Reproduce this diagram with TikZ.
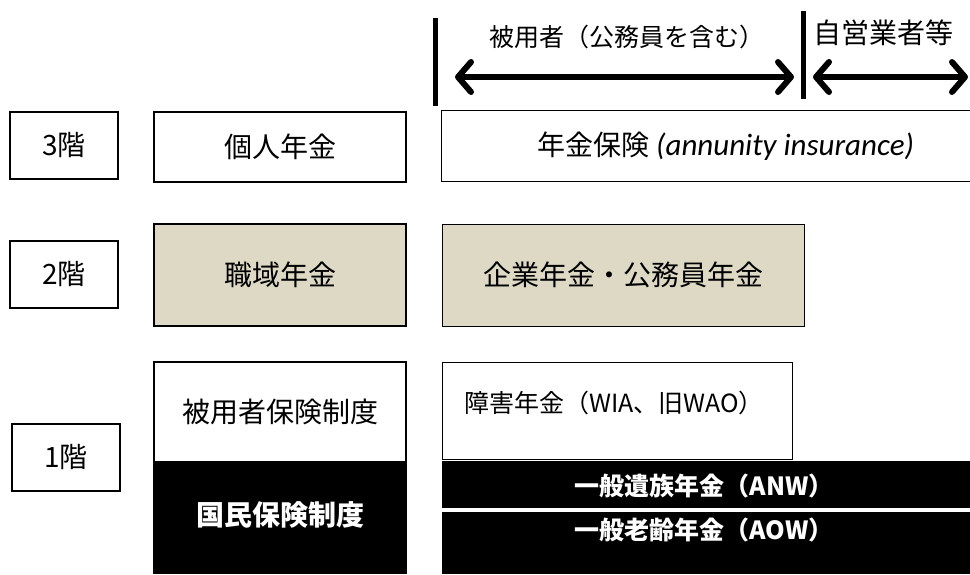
\documentclass[tikz,border=0pt]{standalone}
\usepackage{fontspec}
\setmainfont{Noto Sans CJK JP}
\newfontfamily\carlito{Carlito}
\usetikzlibrary{arrows.meta}
\definecolor{tan}{RGB}{221,217,196}
\newcommand{\fs}[1]{\fontsize{#1}{#1}\selectfont}
\tikzset{
  lvl/.style={draw=black, line width=1.3pt, fill=white, inner sep=0pt, font=\fs{28}},
  cell/.style={draw=black, line width=1pt, inner sep=0pt, font=\fs{28}},
  blk/.style={fill=black, draw=none, inner sep=0pt},
  wtxt/.style={text=white, font=\fs{25}\bfseries, inner sep=0pt},
  txt/.style={inner sep=0pt},
  bar/.style={line width=5pt},
  tipb/.tip={Straight Barb[length=13pt,width=30pt,line width=6pt,round]},
  span/.style={line width=6pt, tipb-tipb}
}
\begin{document}
\begin{tikzpicture}[x=1pt,y=-1pt]
\useasboundingbox (0,0) rectangle (970,574);
% level boxes
\node[lvl, minimum width=108, minimum height=67] (l3) at (64,145.5) {3階};
\node[lvl, minimum width=108, minimum height=67] (l2) at (64,274.5) {2階};
\node[lvl, minimum width=108, minimum height=67] (l1) at (66,457.5) {1階};
% column 2
\node[lvl, minimum width=252, minimum height=70] (kojin) at (280,147) {個人年金};
\node[lvl, fill=tan, minimum width=252, minimum height=102] (shokuiki) at (280,275) {職域年金};
\node[lvl, minimum width=252, minimum height=100] (hiyo) at (280,412) {被用者保険制度};
\node[blk, minimum width=253.3, minimum height=112] (koku) at (280,518) {};
\node[wtxt, font=\fs{28}\bfseries] (kokutxt) at (280,515) {国民保険制度};
% column 3
\node[draw=none, minimum width=528, minimum height=70, inner sep=0pt] (hoken) at (706,146) {};
\draw[line width=1pt] (hoken.north east) -- (hoken.north west) -- (hoken.south west) -- (hoken.south east);
\node[txt, font=\fs{28}] (hokentxt) at (726,146) {年金保険 {\carlito\itshape\fs{31}(annunity insurance)}};
\node[cell, fill=tan, minimum width=362, minimum height=102] (kigyo) at (623,275) {企業年金・公務員年金};
\node[cell, fill=white, minimum width=350, minimum height=97] (shogai) at (617,410.5) {};
\node[txt, font=\fs{25}] (shogaitxt) at (614,402.5) {障害年金（WIA、旧WAO）};
\node[blk, minimum width=528, minimum height=47] (izoku) at (706,484.5) {};
\node[wtxt] (izokutxt) at (704,486) {一般遺族年金（ANW）};
\node[blk, minimum width=528, minimum height=62] (rorei) at (706,543) {};
\node[wtxt] (roreitxt) at (704,530) {一般老齢年金（AOW）};
% header
\coordinate (b1t) at (435,18); \coordinate (b1b) at (435,106);
\coordinate (b2t) at (803,11); \coordinate (b2b) at (803,99);
\draw[bar] (b1t) -- (b1b);
\draw[bar] (b2t) -- (b2b);
\coordinate (a1l) at (455,77); \coordinate (a1r) at (794,77);
\coordinate (a2l) at (813,77); \coordinate (a2r) at (968,77);
\draw[span] (a1l) -- (a1r);
\draw[span] (a2l) -- (a2r);
\node[txt, font=\fs{25}] (hdr1) at (627,37) {被用者（公務員を含む）};
\node[txt, font=\fs{28}] (hdr2) at (883,33) {自営業者等};
\end{tikzpicture}
\end{document}
